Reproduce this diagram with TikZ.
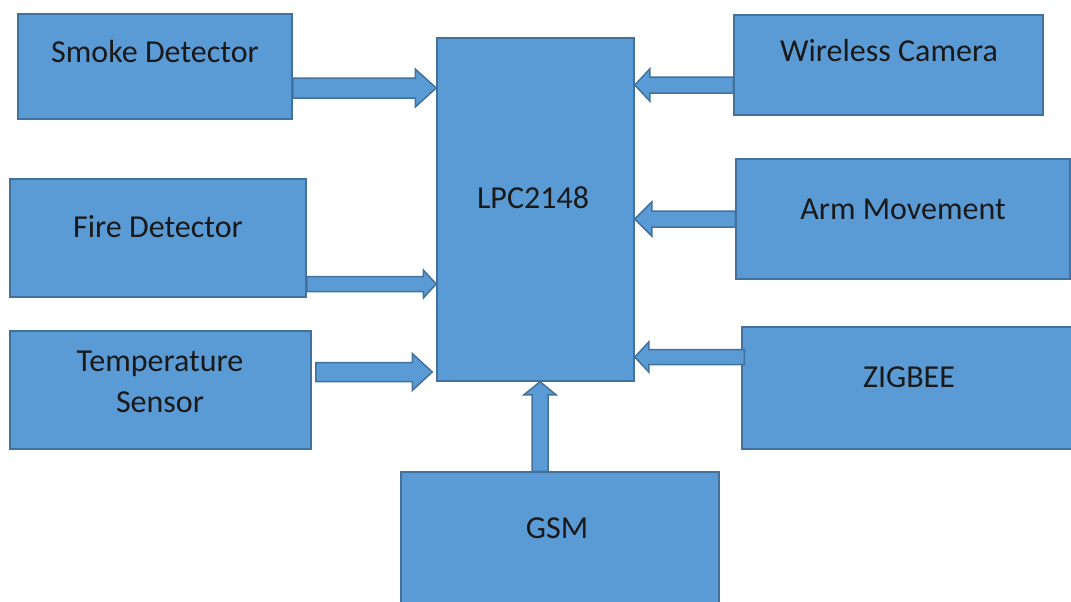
\documentclass[tikz,border=0pt]{standalone}
\usepackage{fontspec}
\setmainfont{Carlito}
\usepackage{xcolor}
\usepackage{tikz}
\usetikzlibrary{calc, fit}
\definecolor{boxblue}{RGB}{91,155,213}
\definecolor{edgeblue}{RGB}{65,113,156}

% from, to, shaft half width, head half width, head length
\newcommand{\blockarrow}[5]{%
  \coordinate (hb) at ($(#2)!#5!(#1)$);
  \draw[blockarr] ($(#1)!#3!90:(#2)$) -- ($(hb)!#3!90:(#2)$) -- ($(hb)!#4!90:(#2)$) -- (#2)
    -- ($(hb)!#4!-90:(#2)$) -- ($(hb)!#3!-90:(#2)$) -- ($(#1)!#3!-90:(#2)$) -- cycle;}

\begin{document}
\begin{tikzpicture}[x=0.5pt, y=-0.5pt]
        \tikzset{box/.style = {draw=edgeblue, fill=boxblue, line width=0.75pt, inner sep=0pt}}
        \tikzset{blockarr/.style = {draw=edgeblue, fill=boxblue, line width=0.75pt, line join=miter}}
        \tikzset{txt/.style = {font=\fontsize{16}{20.5}\selectfont, text=black!90, align=center, inner sep=0pt}}

        \useasboundingbox (0,0) rectangle (1071,601);

        % sensors
        \node[box, fit={(18,14) (292,119)}] (smoke) {};
        \node[txt] (smoke-t) at (155,52) {Smoke Detector};
        \node[box, fit={(10,179) (306,297)}] (fire) {};
        \node[txt] (fire-t) at (158,227) {Fire Detector};
        \node[box, fit={(10,331) (311,449)}] (temp) {};
        \node[txt] (temp-t) at (160,382) {Temperature\\Sensor};

        % controller
        \node[box, fit={(437,38) (634,381)}] (lpc) {};
        \node[txt] (lpc-t) at (533,198) {LPC2148};

        % right side
        \node[box, fit={(734,15) (1043,115)}] (camera) {};
        \node[txt] (camera-t) at (889,51) {Wireless Camera};
        \node[box, fit={(736,159) (1070,279)}] (arm) {};
        \node[txt] (arm-t) at (903,209) {Arm Movement};
        \node[box, fit={(742,327) (1080,449)}] (zigbee) {};
        \node[txt] (zigbee-t) at (909,377) {ZIGBEE};

        % gsm
        \node[box, fit={(401,472) (719,610)}] (gsm) {};
        \node[txt] (gsm-t) at (557,528) {GSM};

        % block arrows
        \blockarrow{smoke.east |- 0,88}{lpc.west |- 0,88}{5pt}{9.5pt}{10.5pt}
        \blockarrow{fire.east |- 0,284}{lpc.west |- 0,284}{3.75pt}{7pt}{6.5pt}
        \blockarrow{$(temp.east |- 0,372)+(4,0)$}{$(lpc.west |- 0,372)+(-4,0)$}{4.75pt}{9.25pt}{10pt}
        \blockarrow{camera.west |- 0,85}{lpc.east |- 0,85}{4pt}{8pt}{7.5pt}
        \blockarrow{arm.west |- 0,219}{lpc.east |- 0,219}{4pt}{8.5pt}{8.5pt}
        \blockarrow{$(zigbee.west |- 0,357)+(3,0)$}{lpc.east |- 0,357}{3.75pt}{7.5pt}{7pt}
        \blockarrow{gsm.north -| 540,0}{lpc.south -| 540,0}{4pt}{8pt}{6.5pt}

\end{tikzpicture}
\end{document}
